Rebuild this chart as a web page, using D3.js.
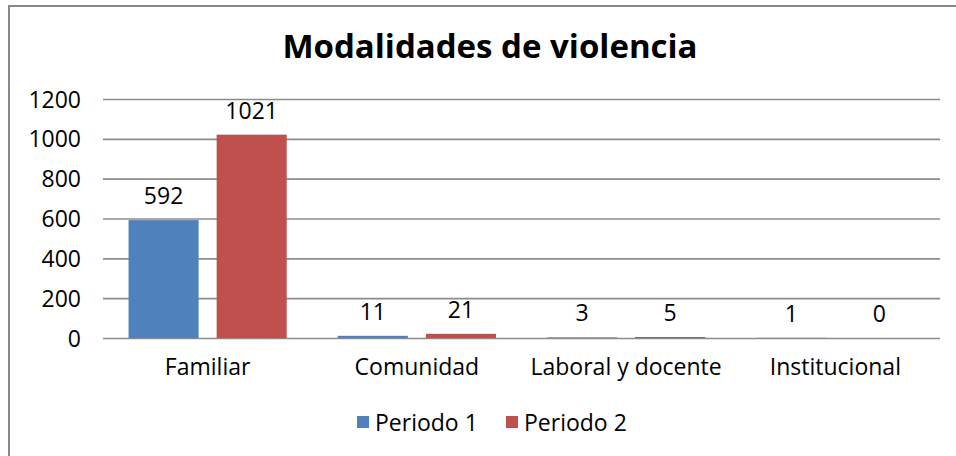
<!DOCTYPE html>
<html>
<head>
<meta charset="utf-8">
<script src="https://cdn.jsdelivr.net/npm/d3@7"></script>
<style>
  body { margin: 0; background: #fff; }
  text { font-family: "Open Sans", sans-serif; fill: #000; }
</style>
</head>
<body>
<div class="chart"></div>
<script>
// datos del grafico
var categorias = ['Familiar', 'Comunidad', 'Laboral y docente', 'Institucional'];
var series = ['Periodo 1', 'Periodo 2'];
var periodo1 = [592, 11, 3, 1];
var periodo2 = [1021, 21, 5, 0];
var ticks = [0, 200, 400, 600, 800, 1000, 1200];
var colores = ['#4f81bd', '#c0504d'];

var data = categorias.map(function(c, i) {
  return { k: c, v: [periodo1[i], periodo2[i]] };
});

var svg_width = 956,
    svg_height = 456,
    svg = d3.select('.chart').append('svg').attr('width', svg_width).attr('height', svg_height),
    margin = {top: 99, right: 16, bottom: 118, left: 103},
    width = svg_width - margin.left - margin.right,
    height = svg_height - margin.top - margin.bottom;

// borde exterior
svg.append('rect')
  .attr('x', 9).attr('y', 6)
  .attr('width', 980).attr('height', 480)
  .attr('fill', 'none').attr('stroke', '#898989').attr('stroke-width', 2);

svg.append('text')
  .attr('x', 490).attr('y', 58)
  .attr('text-anchor', 'middle')
  .style('font-size', '33px').style('font-weight', 'bold')
  .text('Modalidades de violencia');

var g = svg.append('g').attr('transform', 'translate(' + margin.left + ',' + margin.top + ')');

var x0 = d3.scaleBand().domain(categorias).range([0, width]);
var x1 = d3.scaleBand().domain(series).range([0, x0.bandwidth()]).paddingInner(0.2045).paddingOuter(0.29);
var y = d3.scaleLinear().domain([0, 1200]).range([height, 0]);

// lineas de la cuadricula
g.append('g').attr('class', 'grid')
  .call(d3.axisLeft(y).tickValues(ticks).tickSize(-width).tickFormat(''))
  .call(function(s) {
    s.select('.domain').remove();
    s.selectAll('line').attr('stroke', '#8c8c8c').attr('stroke-width', 1.6);
  });

g.append('g').attr('class', 'axis axis-y')
  .call(d3.axisLeft(y).tickValues(ticks).tickSize(0).tickPadding(22).tickFormat(d3.format('d')))
  .call(function(s) {
    s.select('.domain').remove();
    s.selectAll('text').style('font-size', '23px').attr('dy', '0.35em').attr('font-family', null);
  });

g.append('g').attr('class', 'axis axis-x')
  .attr('transform', 'translate(0,' + height + ')')
  .call(d3.axisBottom(x0).tickSize(0).tickPadding(21))
  .call(function(s) {
    s.select('.domain').remove();
    s.selectAll('text').style('font-size', '23px').attr('dy', '0.71em').attr('font-family', null);
  });

var grupos = g.selectAll('.grupo').data(data)
  .enter().append('g')
  .attr('class', 'grupo')
  .attr('transform', function(d) { return 'translate(' + x0(d.k) + ',0)'; });

var barras = grupos.selectAll('.bar')
  .data(function(d) { return d.v.map(function(v, i) { return {s: series[i], v: v, i: i}; }); })
  .enter();

barras.append('rect')
  .attr('class', 'bar')
  .attr('x', function(d) { return x1(d.s); })
  .attr('y', function(d) { return y(d.v); })
  .attr('width', x1.bandwidth())
  .attr('height', function(d) { return height - y(d.v); })
  .attr('fill', function(d) { return colores[d.i]; });

barras.append('text')
  .attr('x', function(d) { return x1(d.s) + x1.bandwidth() / 2; })
  .attr('y', function(d) { return y(d.v) - 16; })
  .attr('text-anchor', 'middle')
  .style('font-size', '23px')
  .text(function(d) { return d.v; });

// leyenda
var leyenda = svg.append('g').attr('transform', 'translate(357,431)');
var itemX = [0, 149];
series.forEach(function(s, i) {
  var it = leyenda.append('g').attr('transform', 'translate(' + itemX[i] + ',0)');
  it.append('rect').attr('x', 0).attr('y', -15).attr('width', 12).attr('height', 12).attr('fill', colores[i]);
  it.append('text').attr('x', 18).attr('y', 0).style('font-size', '23px').text(s);
});
</script>
</body>
</html>
